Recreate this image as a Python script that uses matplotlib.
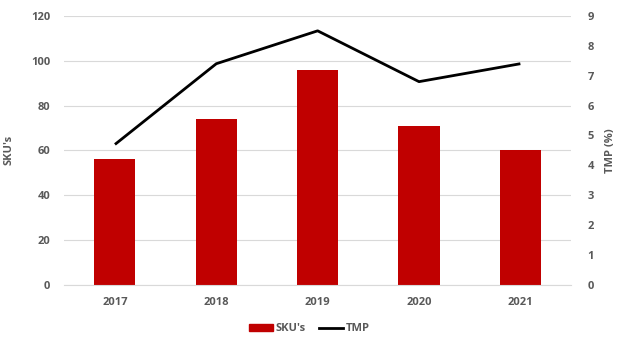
import matplotlib.pyplot as plt
from matplotlib.lines import Line2D
from matplotlib.patches import Patch

# Yearly SKU counts (bars) and TMP percentage (line)
years = ['2017', '2018', '2019', '2020', '2021']
skus = [56, 74, 96, 71, 60]
tmp = [4.7, 7.4, 8.5, 6.8, 7.4]

plt.rcParams['font.family'] = ['Open Sans', 'DejaVu Sans']
grey = '#595959'

fig = plt.figure(figsize=(6.18, 3.38), dpi=100)
ax = fig.add_axes([0.104, 0.157, 0.82, 0.796])
ax2 = ax.twinx()

x = range(len(years))
ax.bar(x, skus, width=0.405, color='#C00000', zorder=2)
ax2.plot(x, tmp, color='black', linewidth=2.0, solid_capstyle='butt')

ax.set_xlim(-0.5, 4.5)
ax.set_ylim(0, 120)
ax.set_yticks(range(0, 121, 20))
ax2.set_ylim(0, 9)
ax2.set_yticks(range(0, 10))
ax.set_xticks(list(x))
ax.set_xticklabels(years)

ax.grid(axis='y', color='#d9d9d9', linewidth=0.8, zorder=0)
ax.set_axisbelow(True)

for a in (ax, ax2):
    for s in a.spines.values():
        s.set_visible(False)
    a.tick_params(length=0, labelsize=8, labelcolor=grey)
    for lbl in a.get_xticklabels() + a.get_yticklabels():
        lbl.set_fontweight('bold')
ax.spines['bottom'].set_visible(True)
ax.spines['bottom'].set_color('#d9d9d9')
ax.tick_params(axis='x', pad=9)
ax.tick_params(axis='y', pad=10)
ax2.tick_params(axis='y', pad=12)

ax.set_ylabel("SKU's", fontsize=8, fontweight='bold', color=grey, labelpad=12)
ax2.set_ylabel('TMP (%)', fontsize=8, fontweight='bold', color=grey, labelpad=8)

handles = [Patch(color='#C00000', label="SKU's"),
           Line2D([], [], color='black', linewidth=2.0, label='TMP')]
leg = fig.legend(handles=handles, loc='center', bbox_to_anchor=(0.5, 0.027), ncol=2,
                 frameon=False, fontsize=8, handlelength=2.2, handleheight=0.6,
                 handletextpad=0.2, columnspacing=1.2)
for t in leg.get_texts():
    t.set_color(grey)
    t.set_fontweight('bold')

fig.savefig('out.png', dpi=100)
